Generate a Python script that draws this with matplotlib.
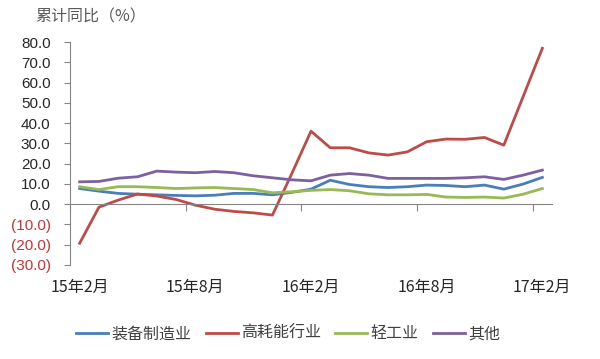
import matplotlib
matplotlib.use('Agg')
import matplotlib.pyplot as plt

plt.rcParams['font.family'] = ['Noto Sans CJK SC', 'DejaVu Sans']

# 数据（累计同比，%），15年2月 - 17年2月
months = ['15年2月', '15年8月', '16年2月', '16年8月', '17年2月']
equip = [7.7, 6.4, 5.3, 4.9, 4.6, 4.3, 4.1, 4.4, 5.3, 5.3, 4.6, 5.8, 7.4,
         11.8, 9.7, 8.6, 8.2, 8.6, 9.4, 9.2, 8.6, 9.4, 7.4, 9.9, 13.2]
energy = [-19.3, -1.5, 2.0, 5.0, 4.0, 2.3, -0.5, -2.5, -3.6, -4.3, -5.4, 15.0, 36.0,
          27.8, 27.8, 25.3, 24.2, 25.8, 30.8, 32.1, 32.0, 32.9, 29.1, 53.0, 76.9]
light = [8.6, 7.2, 8.6, 8.6, 8.2, 7.7, 8.0, 8.2, 7.7, 7.2, 5.6, 6.1, 6.8,
         7.2, 6.6, 5.1, 4.6, 4.6, 4.8, 3.5, 3.3, 3.5, 3.0, 4.9, 7.7]
other = [11.0, 11.2, 12.8, 13.5, 16.3, 15.8, 15.5, 16.1, 15.5, 14.0, 13.0, 12.0, 11.5,
         14.3, 15.1, 14.3, 12.7, 12.7, 12.7, 12.7, 13.0, 13.5, 12.2, 14.3, 16.8]
names = ['装备制造业', '高耗能行业', '轻工业', '其他']
colors = ['#4A7EBB', '#BE4B48', '#98B954', '#7D60A0']

fig = plt.figure(figsize=(6, 3.59), dpi=100)
ax = fig.add_axes([0.1167, 0.262, 0.8033, 0.621])

x = list(range(len(equip)))
for vals, name, c in zip([equip, energy, light, other], names, colors):
    ax.plot(x, vals, color=c, lw=2, label=name, solid_joinstyle='round')

ax.set_xlim(-0.5, 24.5)
ax.set_ylim(-30, 80)

yt = list(range(-30, 81, 10))
ax.set_yticks(yt)
ax.set_yticklabels(['(%.1f)' % abs(v) if v < 0 else '%.1f' % v for v in yt],
                   family='Liberation Sans')
for lab, v in zip(ax.get_yticklabels(), yt):
    lab.set_color('#D03030' if v < 0 else '#262626')
ax.tick_params(axis='y', length=4, width=0.8, color='#868686', pad=10, labelsize=11)

# 横轴在0处
ax.spines['bottom'].set_position(('data', 0))
for s in ['top', 'right']:
    ax.spines[s].set_visible(False)
for s in ['left', 'bottom']:
    ax.spines[s].set_color('#868686')
    ax.spines[s].set_linewidth(0.8)
ax.set_xticks([-0.5, 5.5, 11.5, 17.5, 23.5])
ax.set_xticklabels([])
ax.tick_params(axis='x', length=5, width=0.8, color='#868686')

for i, m in zip([0, 6, 12, 18, 24], months):
    ax.text(i, -0.103, m, transform=ax.get_xaxis_transform(), ha='center',
            va='center', fontsize=11.5, color='#262626')

fig.text(0.058, 0.952, '累计同比（%）', fontsize=11.5, color='#595959', va='center')

fig.legend(loc='center', bbox_to_anchor=(0.48, 0.07), ncol=4, frameon=False,
           fontsize=11.5, handlelength=2.0, handletextpad=0.2, columnspacing=0.9,
           labelcolor='#404040')

fig.savefig('out.png', dpi=100)
